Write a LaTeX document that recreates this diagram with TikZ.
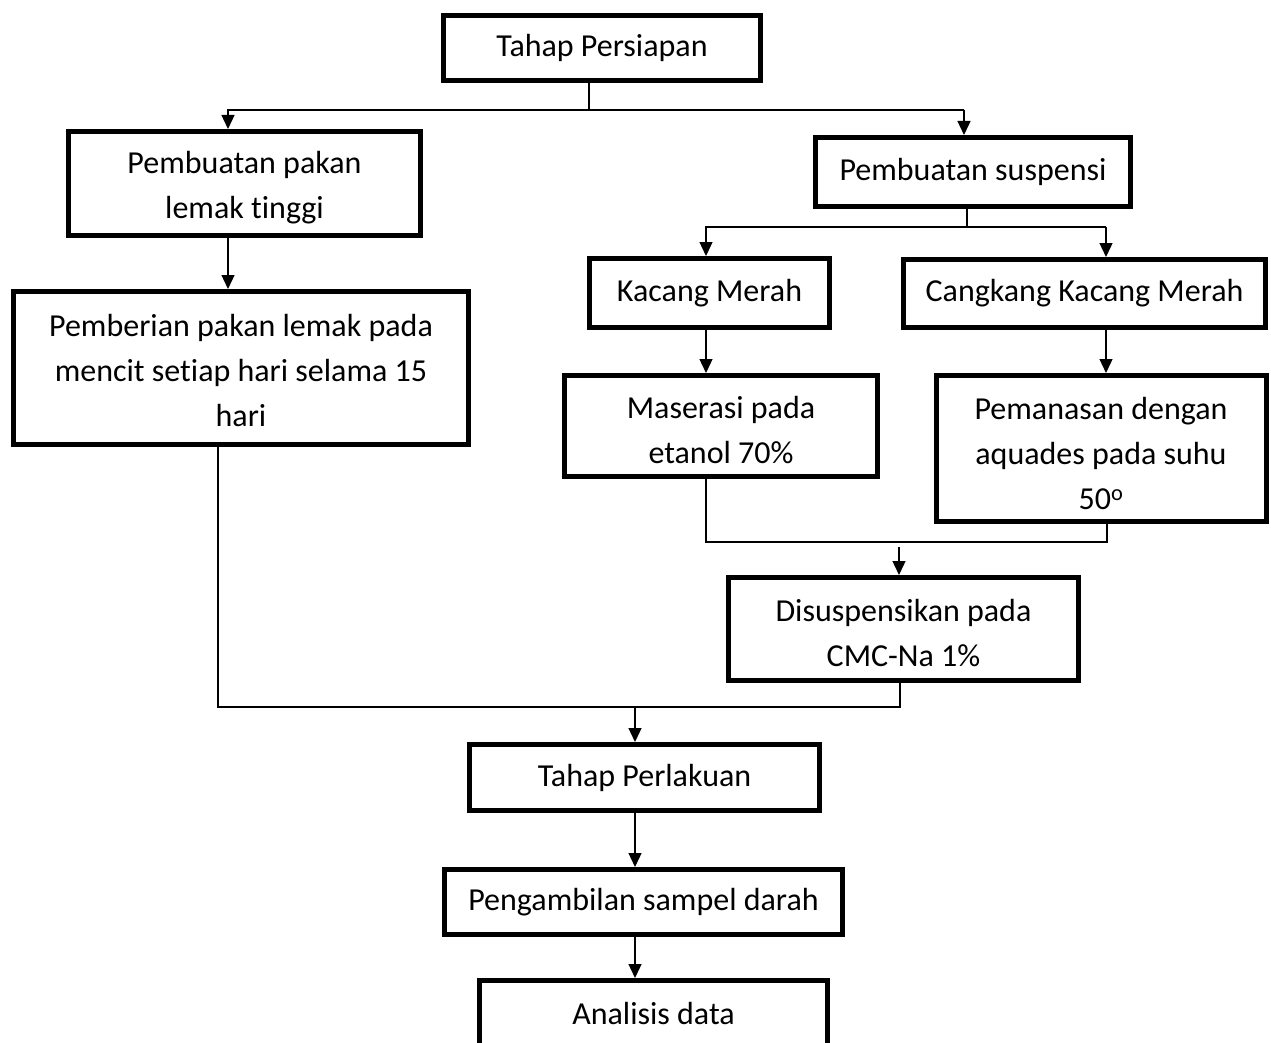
\documentclass[tikz,border=0pt]{standalone}
\usepackage{fontspec}
\setmainfont[Ligatures=NoCommon]{Carlito}
\usetikzlibrary{arrows.meta}
\begin{document}
\begin{tikzpicture}[x=1pt,y=-1pt,
  box/.style={draw, line width=5pt, inner sep=0pt, align=center,
    font=\fontsize{32}{45}\selectfont},
  conn/.style={line width=1.3pt},
  arr/.style={conn, -{Triangle[length=14pt,width=13pt]}}]
\clip (0,0) rectangle (1271,1043);
\fill[white] (0,0) rectangle (1271,1043);
% boxes
\node[box, minimum width=317pt, minimum height=65pt] (tp) at (602,48) {Tahap Persiapan};
\node[box, minimum width=352pt, minimum height=104pt] (pk) at (244.5,183.5) {\rule{0pt}{30pt}Pembuatan pakan\\lemak tinggi};
\node[box, minimum width=315pt, minimum height=69pt] (ps) at (973,172) {Pembuatan suspensi};
\node[box, minimum width=455pt, minimum height=153pt] (pb) at (241,368) {\rule{0pt}{28pt}Pemberian pakan lemak pada\\mencit setiap hari selama 15\\hari};
\node[box, minimum width=240pt, minimum height=69pt] (km) at (709.5,293) {Kacang Merah};
\node[box, minimum width=362pt, minimum height=68pt] (ck) at (1084.5,293.5) {Cangkang Kacang Merah};
\node[box, minimum width=313pt, minimum height=101pt] (ms) at (721,426) {\rule{0pt}{30pt}Maserasi pada\\etanol 70\%};
\node[box, minimum width=330pt, minimum height=146pt] (pm) at (1101,448.5) {\rule{0pt}{32pt}Pemanasan dengan\\aquades pada suhu\\50\textsuperscript{o}};
\node[box, minimum width=350pt, minimum height=103pt] (ds) at (903.5,629) {\rule{0pt}{30pt}Disuspensikan pada\\CMC-Na 1\%};
\node[box, minimum width=350pt, minimum height=66pt] (tl) at (644.5,777.5) {Tahap Perlakuan};
\node[box, minimum width=398pt, minimum height=65pt] (sd) at (643.5,902) {Pengambilan sampel darah};
\node[box, minimum width=348pt, minimum height=65pt] (ad) at (653.5,1013) {Analisis data};
% junction coordinates
\coordinate (j1) at (589,110);
\coordinate (jL) at (228,110);
\coordinate (jR) at (964,110);
\coordinate (j2) at (967,227);
\coordinate (j2L) at (706,227);
\coordinate (j2R) at (1106,227);
\coordinate (m1L) at (706,542);
\coordinate (m1R) at (1107,542);
\coordinate (m1A) at (899,547);
\coordinate (m2R) at (900,707);
\coordinate (m2L) at (218,707);
\coordinate (m2A) at (635,707);
% connectors
\draw[conn] (tp.south -| j1) -- (j1);
\draw[arr] (jR) -- (jL) -- (pk.north -| jL);
\draw[arr] (jR) -- (ps.north -| jR);
\draw[arr] (pk.south -| jL) -- (pb.north -| jL);
\draw[conn] (ps.south -| j2) -- (j2);
\draw[arr] (j2R) -- (j2L) -- (km.north -| j2L);
\draw[arr] (j2R) -- (ck.north -| j2R);
\draw[arr] (km.south -| j2L) -- (ms.north -| j2L);
\draw[arr] (ck.south -| j2R) -- (pm.north -| j2R);
\draw[conn] (ms.south -| m1L) -- (m1L) -- (m1R) -- (pm.south -| m1R);
\draw[arr] (m1A) -- (ds.north -| m1A);
\draw[conn] (ds.south -| m2R) -- (m2R) -- (m2L) -- (pb.south -| m2L);
\draw[arr] (m2A) -- (tl.north -| m2A);
\draw[arr] (tl.south -| m2A) -- (sd.north -| m2A);
\draw[arr] (sd.south -| m2A) -- (ad.north -| m2A);
\end{tikzpicture}
\end{document}
